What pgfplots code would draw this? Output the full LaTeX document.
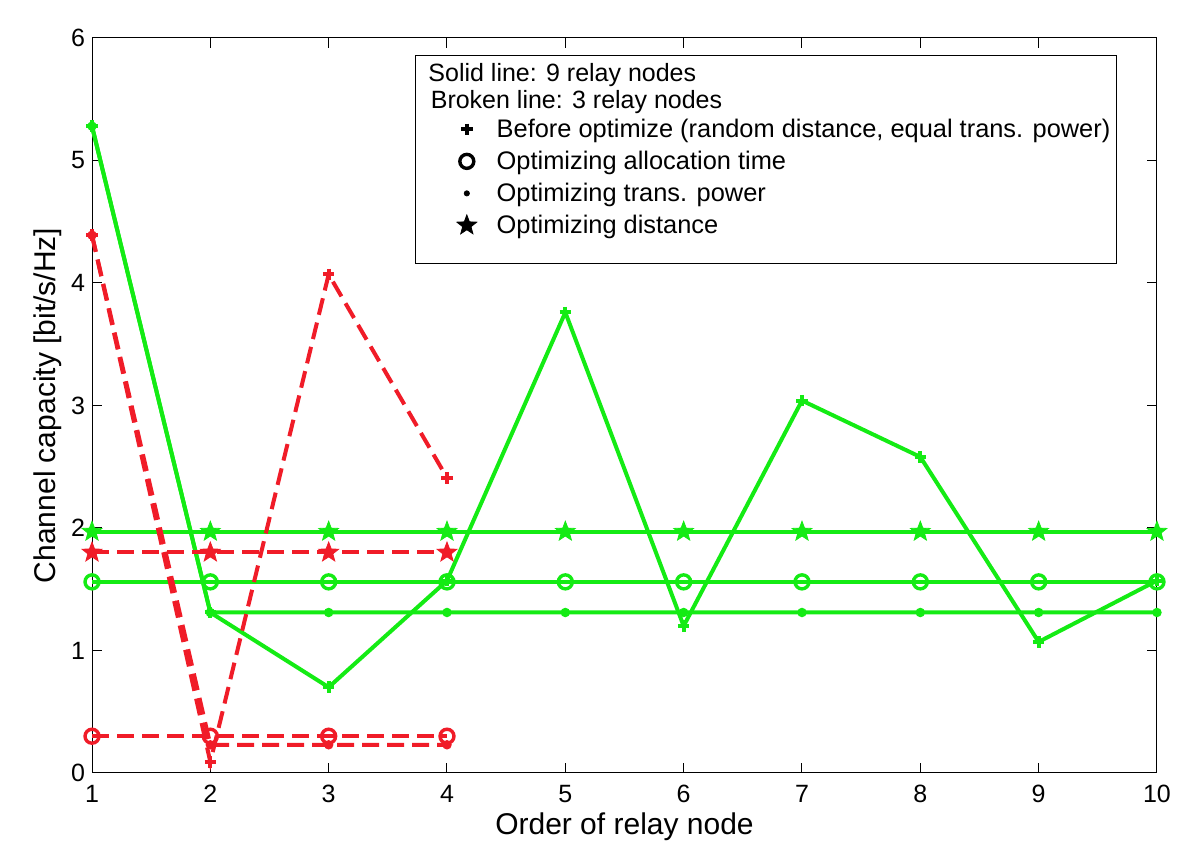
\documentclass[border=0pt]{standalone}
\usepackage{fontspec}
\setmainfont{Liberation Sans}
\usepackage{pgfplots}
\pgfplotsset{compat=1.18}
\usetikzlibrary{plotmarks}
\definecolor{mgreen}{RGB}{20,235,20}
\definecolor{mred}{RGB}{240,28,40}

% filled five-point star
\pgfdeclareplotmark{fstar}{%
  \pgfpathmoveto{\pgfpointpolar{90}{\pgfplotmarksize}}%
  \pgfpathlineto{\pgfpointpolar{126}{0.42\pgfplotmarksize}}%
  \pgfpathlineto{\pgfpointpolar{162}{\pgfplotmarksize}}%
  \pgfpathlineto{\pgfpointpolar{198}{0.42\pgfplotmarksize}}%
  \pgfpathlineto{\pgfpointpolar{234}{\pgfplotmarksize}}%
  \pgfpathlineto{\pgfpointpolar{270}{0.42\pgfplotmarksize}}%
  \pgfpathlineto{\pgfpointpolar{306}{\pgfplotmarksize}}%
  \pgfpathlineto{\pgfpointpolar{342}{0.42\pgfplotmarksize}}%
  \pgfpathlineto{\pgfpointpolar{18}{\pgfplotmarksize}}%
  \pgfpathlineto{\pgfpointpolar{54}{0.42\pgfplotmarksize}}%
  \pgfpathclose\pgfusepathqfillstroke}

\pgfplotsset{
  solidg/.style={mgreen, line width=2pt, solid},
  dashr/.style={mred, line width=2pt, dash pattern=on 8.5pt off 4pt},
  mplus/.style={mark=+, mark size=2.9pt, mark options={solid, line width=2pt}},
  mcirc/.style={mark=o, mark size=3.5pt, mark options={solid, line width=1.7pt}},
  mdot/.style={mark=*, mark size=1.3pt, mark options={solid}},
  mstar/.style={mark=fstar, mark size=5.2pt, mark options={solid, line width=0.4pt}},
}

\begin{document}
\begin{tikzpicture}
\begin{axis}[
  width=532.5pt, height=367.5pt, scale only axis,
  xmin=1, xmax=10, ymin=0, ymax=6,
  xtick={1,...,10}, ytick={0,...,6},
  tick align=inside, major tick length=5pt,
  tick style={black, line width=0.5pt},
  axis line style={line width=0.5pt},
  clip=false,
  ticklabel style={font=\fontsize{12.5}{14}\selectfont},
  xticklabel style={yshift=-2.5pt},
  /pgf/number format/assume math mode=true,
  xlabel={Order of relay node},
  ylabel={Channel capacity [bit/s/Hz]},
  label style={font=\fontsize{15}{17}\selectfont},
  xlabel style={yshift=2pt},
  ylabel style={yshift=-2pt},
  legend image code/.code={\draw[#1] plot coordinates {(0cm,0cm)};},
  legend style={at={(axis cs:4.03,5.41)}, anchor=north west, draw=none, fill=none,
    font=\fontsize{12.7}{14.5}\selectfont, row sep=1.3pt, column sep=8pt,
    nodes={inner sep=2pt}},
  legend cell align=left,
]
% 9 relay nodes (solid)
\addplot[solidg, mdot, forget plot] coordinates {(1,5.28) (2,1.31) (3,1.31) (4,1.31) (5,1.31) (6,1.31) (7,1.31) (8,1.31) (9,1.31) (10,1.31)};
\addplot[solidg, mcirc, forget plot] coordinates {(1,1.56) (2,1.56) (3,1.56) (4,1.56) (5,1.56) (6,1.56) (7,1.56) (8,1.56) (9,1.56) (10,1.56)};
\addplot[solidg, mstar, forget plot] coordinates {(1,1.97) (2,1.97) (3,1.97) (4,1.97) (5,1.97) (6,1.97) (7,1.97) (8,1.97) (9,1.97) (10,1.97)};
\addplot[solidg, mplus, forget plot] coordinates {(1,5.28) (2,1.31) (3,0.70) (4,1.57) (5,3.76) (6,1.20) (7,3.04) (8,2.58) (9,1.07) (10,1.57)};
% 3 relay nodes (broken)
\addplot[dashr, mdot, forget plot] coordinates {(1,4.39) (2,0.23) (3,0.23) (4,0.23)};
\addplot[dashr, mcirc, forget plot] coordinates {(1,0.30) (2,0.30) (3,0.30) (4,0.30)};
\addplot[dashr, mstar, forget plot] coordinates {(1,1.80) (2,1.80) (3,1.80) (4,1.80)};
\addplot[dashr, mplus, forget plot] coordinates {(1,4.39) (2,0.09) (3,4.07) (4,2.41)};

% legend
\addlegendimage{black, mplus}
\addlegendentry{Before optimize (random distance, equal trans. power)}
\addlegendimage{black, mcirc}
\addlegendentry{Optimizing allocation time}
\addlegendimage{black, mdot}
\addlegendentry{Optimizing trans. power}
\addlegendimage{black, mstar}
\addlegendentry{Optimizing distance}

\draw[black, line width=0.5pt] (axis cs:3.73,5.86) rectangle (axis cs:9.66,4.16);
\node[anchor=west, inner sep=0pt, font=\fontsize{12.5}{14}\selectfont] at (axis cs:3.84,5.70) {Solid line: 9 relay nodes};
\node[anchor=west, inner sep=0pt, font=\fontsize{12.5}{14}\selectfont] at (axis cs:3.86,5.48) {Broken line: 3 relay nodes};

% page extent as in the reference
\path (rel axis cs:-0.0864,-0.1156) rectangle (rel axis cs:1.0404,1.0517);
\end{axis}
\end{tikzpicture}
\end{document}
